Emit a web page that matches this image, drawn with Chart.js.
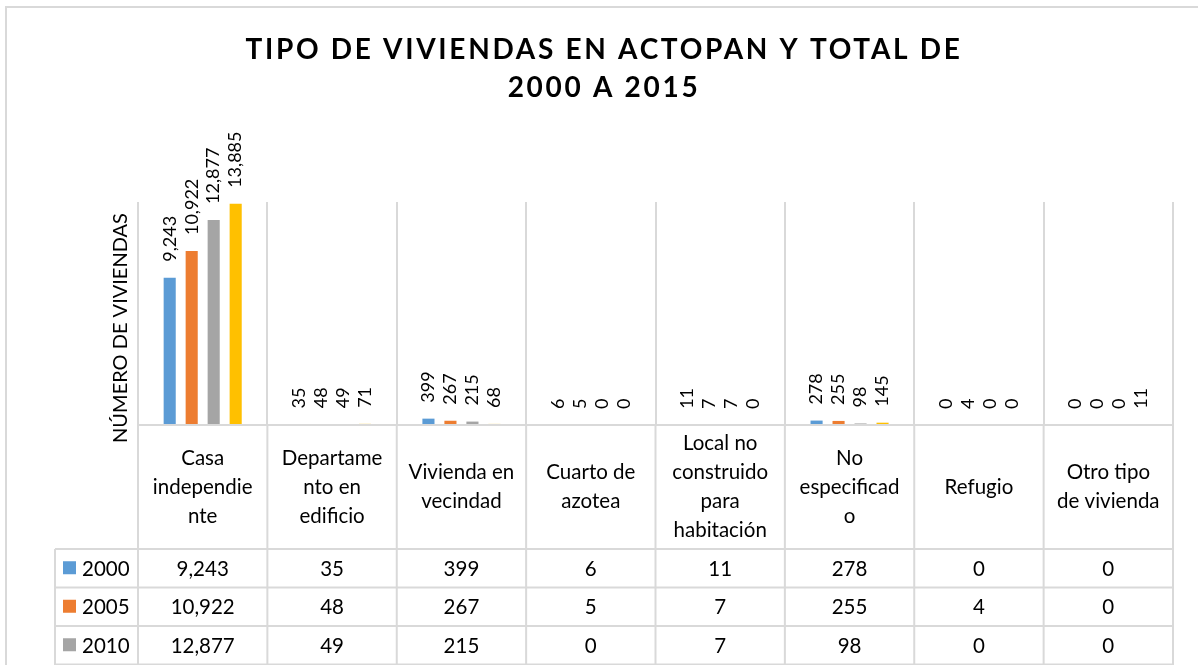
<!DOCTYPE html>
<html lang="es">
<head>
<meta charset="UTF-8">
<title>Tipo de viviendas en Actopan</title>
<script src="https://cdn.jsdelivr.net/npm/chart.js"></script>
<style>
    html, body {
        margin: 0;
        padding: 0;
        background: #ffffff;
        overflow: hidden;
    }
    #contenedor {
        width: 1198px;
        height: 705px;
    }
</style>
</head>
<body>

<div id="contenedor">
    <canvas id="grafica" width="1198" height="705"></canvas>
</div>

<script>
    // categorias tal como Excel las parte en la tabla
    const categorias = [
        ['Casa', 'independie', 'nte'],
        ['Departame', 'nto en', 'edificio'],
        ['Vivienda en', 'vecindad'],
        ['Cuarto de', 'azotea'],
        ['Local no', 'construido', 'para', 'habitación'],
        ['No', 'especificad', 'o'],
        ['Refugio'],
        ['Otro tipo', 'de vivienda']
    ];
    const anios = ['2000', '2005', '2010', '2015'];
    const v2000 = [9243, 35, 399, 6, 11, 278, 0, 0];
    const v2005 = [10922, 48, 267, 5, 7, 255, 4, 0];
    const v2010 = [12877, 49, 215, 0, 7, 98, 0, 0];
    const v2015 = [13885, 71, 68, 0, 0, 145, 0, 11];
    const colores = ['#5B9BD5', '#ED7D31', '#A5A5A5', '#FFC000'];

    const titulo = ['TIPO DE VIVIENDAS EN ACTOPAN Y TOTAL DE', '2000 A 2015'];
    const tituloEje = 'NÚMERO DE VIVIENDAS';

    const series = [v2000, v2005, v2010, v2015];
    const fuente = 'Lato, sans-serif';
    const gris = '#d9d9d9';
    const fmt = n => n.toLocaleString('en-US');

    // medidas de la tabla de datos (debajo del area de barras)
    const altoCabecera = 124;
    const altoFila = 38.5;
    const izqLeyenda = 55;

    const tablaDatos = {
        id: 'tablaDatos',
        beforeDraw(chart) {
            const ctx = chart.ctx;
            ctx.save();
            ctx.strokeStyle = gris;
            ctx.lineWidth = 2;
            ctx.beginPath();
            ctx.moveTo(6, chart.height);
            ctx.lineTo(6, 7);
            ctx.lineTo(chart.width, 7);
            ctx.stroke();

            // titulo
            ctx.fillStyle = '#000';
            ctx.font = 'bold 28px ' + fuente;
            ctx.letterSpacing = '2.7px';
            ctx.textAlign = 'center';
            ctx.textBaseline = 'alphabetic';
            ctx.fillText(titulo[0], 604, 59);
            ctx.fillText(titulo[1], 604, 97);
            ctx.letterSpacing = '0px';

            // titulo del eje vertical
            ctx.translate(127, 328);
            ctx.rotate(-Math.PI / 2);
            ctx.font = '20px ' + fuente;
            ctx.fillText(tituloEje, 0, 0);
            ctx.restore();
        },
        afterDatasetsDraw(chart) {
            const ctx = chart.ctx;
            ctx.save();
            ctx.fillStyle = '#000';
            ctx.font = '18px ' + fuente;
            ctx.textAlign = 'left';
            ctx.textBaseline = 'middle';
            chart.data.datasets.forEach((ds, i) => {
                chart.getDatasetMeta(i).data.forEach((barra, j) => {
                    ctx.save();
                    ctx.translate(barra.x, barra.y - 16);
                    ctx.rotate(-Math.PI / 2);
                    ctx.fillText(fmt(ds.data[j]), 0, 0);
                    ctx.restore();
                });
            });
            ctx.restore();
        },
        afterDraw(chart) {
            const ctx = chart.ctx;
            const x = chart.scales.x;
            const area = chart.chartArea;
            const paso = x.getPixelForValue(1) - x.getPixelForValue(0);
            const arriba = area.bottom;
            const filasTop = arriba + altoCabecera;
            const abajo = filasTop + altoFila * anios.length;

            ctx.save();
            ctx.strokeStyle = gris;
            ctx.lineWidth = 2;
            ctx.beginPath();
            // lineas horizontales
            ctx.moveTo(area.left, arriba);
            ctx.lineTo(area.right, arriba);
            for (let r = 0; r <= anios.length; r++) {
                const y = filasTop + r * altoFila;
                ctx.moveTo(izqLeyenda, y);
                ctx.lineTo(area.right, y);
            }
            // lineas verticales
            for (let c = 0; c <= categorias.length; c++) {
                const xc = x.getPixelForValue(0) - paso / 2 + c * paso;
                ctx.moveTo(xc, arriba);
                ctx.lineTo(xc, abajo);
            }
            ctx.moveTo(izqLeyenda, filasTop);
            ctx.lineTo(izqLeyenda, abajo);
            ctx.stroke();

            ctx.fillStyle = '#000';
            ctx.font = '20.5px ' + fuente;
            ctx.textAlign = 'center';
            ctx.textBaseline = 'middle';

            // cabecera con las categorias
            categorias.forEach((lineas, i) => {
                const cx = x.getPixelForValue(i);
                const cy = arriba + altoCabecera / 2;
                const alto = 29;
                lineas.forEach((t, k) => {
                    ctx.fillText(t, cx, cy + (k - (lineas.length - 1) / 2) * alto);
                });
            });

            // filas de valores
            anios.forEach((a, r) => {
                const cy = filasTop + r * altoFila + altoFila / 2;
                ctx.fillStyle = colores[r];
                ctx.fillRect(63, cy - 7, 13, 13);
                ctx.fillStyle = '#000';
                ctx.textAlign = 'left';
                ctx.fillText(a, 82, cy + 1);
                ctx.textAlign = 'center';
                series[r].forEach((v, i) => {
                    ctx.fillText(fmt(v), x.getPixelForValue(i), cy + 1);
                });
            });
            ctx.restore();
        }
    };

    new Chart(document.getElementById('grafica'), {
        type: 'bar',
        data: {
            labels: categorias,
            datasets: anios.map((a, i) => ({
                label: a,
                data: series[i],
                backgroundColor: colores[i],
                borderWidth: 0,
                categoryPercentage: 0.68,
                barPercentage: 0.55
            }))
        },
        options: {
            responsive: false,
            animation: false,
            layout: {
                padding: { top: 202, left: 138, right: 25, bottom: 280 }
            },
            plugins: {
                legend: { display: false },
                title: { display: false },
                tooltip: { enabled: false }
            },
            scales: {
                x: {
                    ticks: { display: false },
                    border: { display: false },
                    grid: {
                        color: gris,
                        lineWidth: 2,
                        offset: true,
                        drawTicks: false
                    }
                },
                y: {
                    display: false,
                    min: 0,
                    max: 14000
                }
            }
        },
        plugins: [tablaDatos]
    });
</script>

</body>
</html>
